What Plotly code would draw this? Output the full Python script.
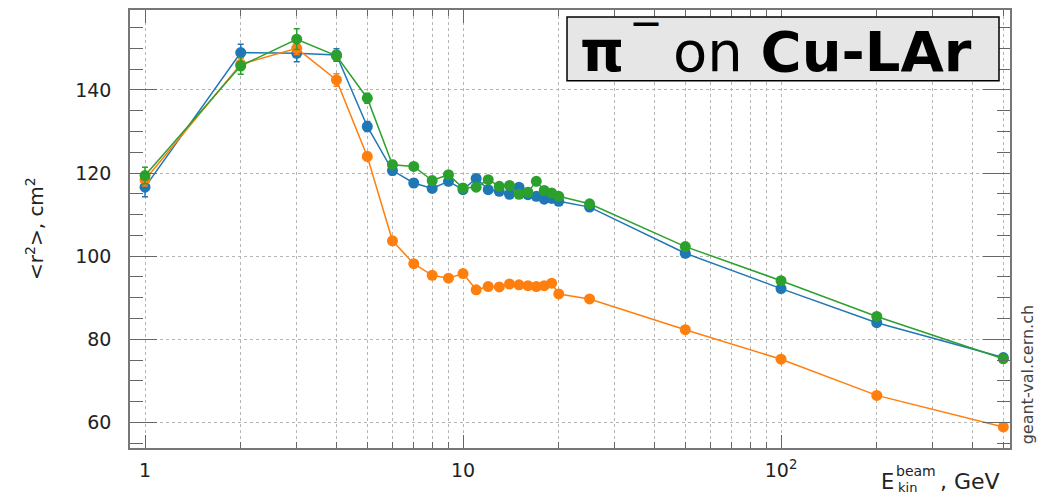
import plotly.graph_objects as go

# ---------------- data ----------------
energy = [1, 2, 3, 4, 5, 6, 7, 8, 9, 10, 11, 12, 13, 14, 15, 16, 17, 18, 19, 20, 25, 50, 100, 200, 500]

r2_blue = [116.6, 149.0, 148.8, 148.4, 131.2, 120.6, 117.6, 116.3, 118.0, 116.0, 118.7, 116.0, 115.6,
           114.9, 116.6, 114.8, 114.4, 113.7, 113.9, 113.2, 111.8, 100.7, 92.2, 84.0, 75.6]
err_blue = [2.3, 2.0, 2.0, 1.5, 1.2, 1.0, 0.9, 0.8, 0.8, 0.8, 0.7, 0.7, 0.6,
            0.6, 0.6, 0.6, 0.6, 0.6, 0.6, 0.6, 0.5, 0.5, 0.4, 0.4, 0.3]

r2_orange = [118.4, 146.2, 150.0, 142.4, 124.0, 103.7, 98.2, 95.4, 94.7, 95.8, 91.9, 92.7, 92.6,
             93.3, 93.1, 92.9, 92.7, 92.9, 93.5, 90.9, 89.7, 82.3, 75.2, 66.5, 58.9]
err_orange = [1.5, 1.5, 1.5, 1.5, 1.0, 0.8, 0.7, 0.6, 0.6, 0.6, 0.5, 0.5, 0.5,
              0.5, 0.5, 0.5, 0.5, 0.5, 0.5, 0.5, 0.4, 0.4, 0.3, 0.3, 0.3]

r2_green = [119.4, 145.8, 152.2, 148.2, 138.0, 122.0, 121.6, 118.2, 119.6, 116.4, 116.6, 118.4, 116.8,
            117.0, 114.9, 115.4, 118.0, 115.8, 115.2, 114.4, 112.6, 102.3, 94.1, 85.5, 75.3]
err_green = [2.0, 2.0, 2.5, 1.2, 1.2, 1.0, 0.9, 0.8, 0.8, 0.8, 0.7, 0.7, 0.6,
             0.6, 0.6, 0.6, 0.6, 0.6, 0.6, 0.6, 0.5, 0.5, 0.4, 0.4, 0.3]

series = [
    ("blue", r2_blue, err_blue, "#1f77b4"),
    ("orange", r2_orange, err_orange, "#ff7f0e"),
    ("green", r2_green, err_green, "#2ca02c"),
]

x_major = [1, 10, 100]
x_major_text = ["1", "10", "10<sup>2</sup>"]
x_minor = [2, 3, 4, 5, 6, 7, 8, 9, 20, 30, 40, 50, 60, 70, 80, 90, 200, 300, 400, 500]
y_major = [60, 80, 100, 120, 140]

# ---------------- layout geometry ----------------
W, H = 1040, 495
ML, MR, MT, MB = 130, 30, 8, 47
PW, PH = W - ML - MR, H - MT - MB


def px(xp):
    return (xp - ML) / PW


def py(yp):
    return (H - MB - yp) / PH


FONT = "DejaVu Sans"

fig = go.Figure()
for name, vals, errs, col in series:
    fig.add_trace(go.Scatter(
        x=energy, y=vals, mode="lines+markers", name=name,
        line=dict(color=col, width=1.5),
        marker=dict(size=11, color=col),
        error_y=dict(type="data", array=errs, color=col, thickness=1.5, width=3),
        showlegend=False,
    ))

axis_common = dict(
    showline=True, linecolor="#777", linewidth=1.5, mirror="ticks",
    ticks="inside", tickcolor="#666", tickwidth=1.2,
    showgrid=True, gridcolor="#b5b5b5", griddash="dot", gridwidth=1,
    zeroline=False,
    tickfont=dict(family=FONT, size=19, color="#222"),
)

fig.update_xaxes(
    type="log", range=[-0.0472, 2.720],
    tickmode="array", tickvals=x_major, ticktext=x_major_text, ticklen=13,
    minor=dict(tickmode="array", tickvals=x_minor, ticks="inside", ticklen=6,
               tickcolor="#666", showgrid=True, gridcolor="#b5b5b5", griddash="dot", gridwidth=1),
    ticklabelstandoff=4,
    **axis_common,
)
fig.update_yaxes(
    range=[53.84, 159.23], tickmode="array", tickvals=y_major, ticklen=27,
    minor=dict(dtick=5, tick0=0, ticks="inside", ticklen=13, tickcolor="#666", showgrid=False),
    ticklabelstandoff=13,
    **axis_common,
)

# title box
fig.add_shape(type="rect", xref="paper", yref="paper",
              x0=px(567), x1=px(999), y0=py(79), y1=py(15),
              fillcolor="#e6e6e6", line=dict(color="black", width=1.5), layer="above")

annotations = [
    dict(text="<b>π</b>", x=px(578), y=py(50),
         xanchor="left", yanchor="middle", font=dict(family=FONT, size=56, color="black")),
    dict(text="<b>—</b>", x=px(646), y=py(21),
         xanchor="center", yanchor="middle", font=dict(family=FONT, size=28, color="black")),
    dict(text="on <b>Cu-LAr</b>", x=px(671), y=py(50),
         xanchor="left", yanchor="middle", font=dict(family=FONT, size=56, color="black")),
    dict(text="&lt;r<sup>2</sup>&gt;, cm<sup>2</sup>", x=px(35), y=py(228), textangle=-90,
         xanchor="center", yanchor="middle", font=dict(family=FONT, size=20, color="#222")),
    dict(text="E", x=px(879), y=py(482), xanchor="left", yanchor="middle",
         font=dict(family=FONT, size=21, color="#222")),
    dict(text="beam", x=px(894), y=py(471), xanchor="left", yanchor="middle",
         font=dict(family=FONT, size=14, color="#222")),
    dict(text="kin", x=px(896), y=py(488), xanchor="left", yanchor="middle",
         font=dict(family=FONT, size=13, color="#222")),
    dict(text=", GeV", x=px(938), y=py(482), xanchor="left", yanchor="middle",
         font=dict(family=FONT, size=22, color="#222")),
    dict(text="geant-val.cern.ch", x=px(1027), y=py(375), textangle=-90,
         xanchor="center", yanchor="middle", font=dict(family=FONT, size=16, color="#444")),
]
for a in annotations:
    a.update(xref="paper", yref="paper", showarrow=False)

fig.update_layout(
    width=W, height=H,
    margin=dict(l=ML, r=MR, t=MT, b=MB, pad=0),
    paper_bgcolor="white", plot_bgcolor="white",
    annotations=annotations,
    showlegend=False,
)

fig.write_html("out.html", config={"displayModeBar": False},
               post_script="document.body.style.margin='0';document.body.style.overflow='hidden';")
